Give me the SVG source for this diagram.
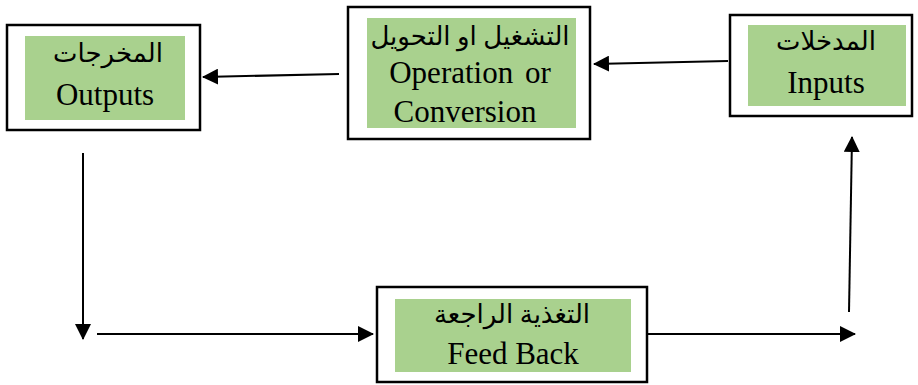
<svg xmlns="http://www.w3.org/2000/svg" width="918" height="385" viewBox="0 0 918 385">
<style>
.outer{fill:#ffffff;stroke:#000000;stroke-width:2.5}
.inner{fill:#a9d18e;stroke:none}
.t{font-family:"Liberation Serif","Times New Roman",serif;font-size:31px;fill:#000000;text-anchor:middle}
.ar{font-family:"Liberation Serif","DejaVu Sans","Noto Sans",serif;font-size:26px;fill:#000000;text-anchor:middle}
.c{fill:none;stroke:#000000;stroke-width:2}
</style>
<defs>
<marker id="ah" viewBox="0 0 16 16" refX="15" refY="8" markerWidth="16" markerHeight="16" markerUnits="userSpaceOnUse" orient="auto">
<path d="M0,0 L16,8 L0,16 z" fill="#000000"/>
</marker>
</defs>
<rect width="918" height="385" fill="#ffffff"/>
<g id="outputs">
<rect class="outer" x="7" y="25" width="193" height="105"/>
<rect class="inner" x="25" y="36" width="160" height="84"/>
<text class="ar" x="108" y="62" direction="rtl">المخرجات</text>
<text class="t" x="105" y="105">Outputs</text>
</g>
<g id="operation">
<rect class="outer" x="348" y="7" width="242" height="132"/>
<rect class="inner" x="367" y="18" width="209" height="110"/>
<text class="ar" x="470" y="45" direction="rtl">التشغيل او التحويل</text>
<text class="t" x="470" y="83" word-spacing="4">Operation or</text>
<text class="t" x="465" y="122">Conversion</text>
</g>
<g id="inputs">
<rect class="outer" x="730" y="15" width="182" height="101"/>
<rect class="inner" x="748" y="25" width="158" height="81"/>
<text class="ar" x="826" y="50" direction="rtl">المدخلات</text>
<text class="t" x="826" y="93">Inputs</text>
</g>
<g id="feedback">
<rect class="outer" x="377" y="287" width="270" height="95"/>
<rect class="inner" x="395" y="299" width="236" height="73"/>
<text class="ar" x="512" y="323" direction="rtl">التغذية الراجعة</text>
<text class="t" x="513" y="364">Feed Back</text>
</g>
<g id="connectors">
<path class="c" d="M339,74 L203,77" marker-end="url(#ah)"/>
<path class="c" d="M728,61 L594,64" marker-end="url(#ah)"/>
<path class="c" d="M83,153 L83,339" marker-end="url(#ah)"/>
<path class="c" d="M97,334 L373,334" marker-end="url(#ah)"/>
<path class="c" d="M648,334 L855,334" marker-end="url(#ah)"/>
<path class="c" d="M849,312 L852,137" marker-end="url(#ah)"/>
</g>
</svg>
